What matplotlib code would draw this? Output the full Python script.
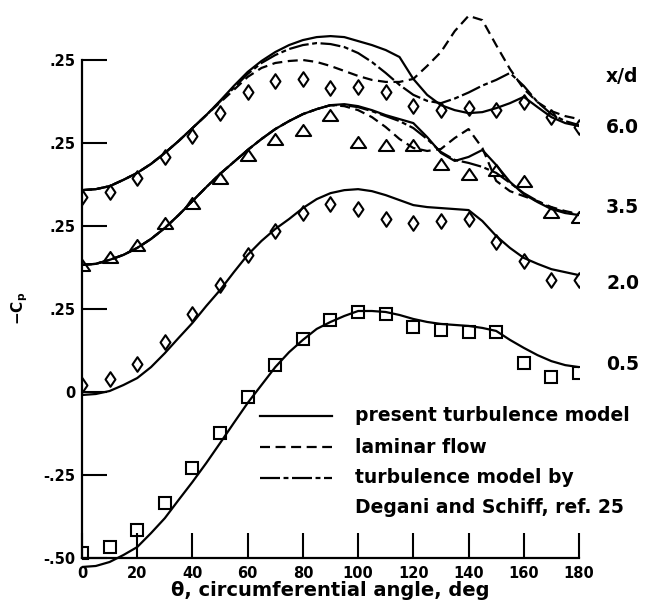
import numpy as np
import matplotlib
matplotlib.use("Agg")
import matplotlib.pyplot as plt
from matplotlib.path import Path

plt.rcParams["font.family"] = ["DejaVu Sans"]
plt.rcParams["font.weight"] = "bold"

# circumferential stations
theta_line = np.arange(0, 181, 5)
theta_pts = np.arange(0, 181, 10)

# ---- x/d = 6.0 ----
xd60_present = [0.608, 0.611, 0.620, 0.639, 0.660, 0.687, 0.720, 0.756, 0.795, 0.834,
                0.877, 0.922, 0.964, 0.997, 1.024, 1.045, 1.060, 1.069, 1.072, 1.069,
                1.057, 1.045, 1.030, 1.009, 0.943, 0.895, 0.864, 0.849, 0.840, 0.843,
                0.855, 0.870, 0.889, 0.858, 0.828, 0.810, 0.801]
xd60_laminar = [0.608, 0.611, 0.620, 0.639, 0.660, 0.687, 0.720, 0.756, 0.795, 0.834,
                0.872, 0.910, 0.949, 0.976, 0.991, 0.997, 1.000, 0.994, 0.982, 0.967,
                0.952, 0.940, 0.934, 0.934, 0.943, 0.982, 1.024, 1.087, 1.133, 1.120,
                1.045, 0.973, 0.913, 0.873, 0.846, 0.831, 0.822]
xd60_degani = [0.608, 0.611, 0.620, 0.639, 0.660, 0.687, 0.720, 0.756, 0.795, 0.834,
               0.875, 0.916, 0.958, 0.991, 1.015, 1.033, 1.045, 1.051, 1.048, 1.039,
               1.021, 0.994, 0.961, 0.925, 0.895, 0.877, 0.870, 0.884, 0.902, 0.923,
               0.940, 0.961, 0.922, 0.873, 0.837, 0.816, 0.804]
xd60_exp = [0.587, 0.602, 0.645, 0.708, 0.771, 0.840, 0.904, 0.937, 0.943, 0.916,
            0.919, 0.904, 0.861, 0.849, 0.855, 0.849, 0.873, 0.828, 0.798]

# ---- x/d = 3.5 ----
xd35_present = [0.383, 0.386, 0.398, 0.413, 0.434, 0.461, 0.494, 0.533, 0.575, 0.617,
                0.657, 0.693, 0.729, 0.762, 0.792, 0.816, 0.837, 0.852, 0.864, 0.867,
                0.861, 0.849, 0.834, 0.822, 0.810, 0.768, 0.720, 0.696, 0.708, 0.729,
                0.684, 0.633, 0.596, 0.572, 0.551, 0.539, 0.533]
xd35_laminar = [0.383, 0.386, 0.398, 0.413, 0.434, 0.461, 0.494, 0.533, 0.575, 0.617,
                0.657, 0.693, 0.729, 0.762, 0.792, 0.816, 0.837, 0.852, 0.864, 0.861,
                0.849, 0.828, 0.798, 0.762, 0.735, 0.726, 0.732, 0.765, 0.792, 0.735,
                0.636, 0.605, 0.590, 0.575, 0.557, 0.545, 0.536]
xd35_degani = [0.383, 0.386, 0.398, 0.413, 0.434, 0.461, 0.494, 0.533, 0.575, 0.617,
               0.657, 0.693, 0.729, 0.762, 0.792, 0.816, 0.837, 0.852, 0.864, 0.864,
               0.858, 0.846, 0.831, 0.816, 0.795, 0.762, 0.723, 0.699, 0.690, 0.678,
               0.660, 0.630, 0.599, 0.575, 0.554, 0.542, 0.533]
xd35_exp = [0.383, 0.407, 0.443, 0.509, 0.569, 0.645, 0.714, 0.762, 0.789, 0.834,
            0.753, 0.744, 0.744, 0.687, 0.657, 0.669, 0.636, 0.542, 0.527]

# ---- x/d = 2.0 ----
xd20_present = [-0.009, -0.006, 0.003, 0.021, 0.042, 0.075, 0.117, 0.163, 0.208, 0.259,
                0.307, 0.361, 0.413, 0.455, 0.491, 0.521, 0.554, 0.581, 0.599, 0.608,
                0.611, 0.605, 0.593, 0.578, 0.563, 0.557, 0.554, 0.551, 0.548, 0.515,
                0.470, 0.434, 0.404, 0.386, 0.370, 0.361, 0.352]
xd20_exp = [0.021, 0.039, 0.084, 0.151, 0.235, 0.322, 0.413, 0.485, 0.539, 0.566,
            0.551, 0.521, 0.509, 0.515, 0.521, 0.452, 0.395, 0.337, 0.337]

# ---- x/d = 0.5 ----
xd05_present = [-0.527, -0.524, -0.512, -0.491, -0.467, -0.425, -0.380, -0.325, -0.271, -0.214,
                -0.154, -0.093, -0.033, 0.021, 0.075, 0.120, 0.157, 0.190, 0.211, 0.229,
                0.244, 0.244, 0.241, 0.232, 0.220, 0.211, 0.205, 0.202, 0.199, 0.193,
                0.184, 0.157, 0.133, 0.111, 0.093, 0.081, 0.075]
xd05_exp = [-0.485, -0.467, -0.416, -0.334, -0.229, -0.123, -0.015, 0.081, 0.160, 0.217,
            0.241, 0.235, 0.196, 0.187, 0.181, 0.181, 0.087, 0.045, 0.057]

station_labels = ["6.0", "3.5", "2.0", "0.5"]
station_label_y = [0.798, 0.557, 0.328, 0.084]

x_ticks = [0, 20, 40, 60, 80, 100, 120, 140, 160, 180]
x_tick_labels = ["0", "20", "40", "60", "80", "100", "120", "140", "160", "180"]
y_ticks = [-0.5, -0.25, 0.0, 0.25, 0.5, 0.75, 1.0]
y_tick_labels = ["-.50", "-.25", "0", ".25", ".25", ".25", ".25"]

legend_labels = ["present turbulence model", "laminar flow",
                 "turbulence model by", "Degani and Schiff, ref. 25"]

# line styles
LW = 1.6
SOLID = "-"
DASHED = (0, (4.5, 2.5))
DASHDOT = (0, (9, 1.6, 2.2, 1.6))

# open markers
diamond = Path([(0, 1), (0.68, 0), (0, -1), (-0.68, 0), (0, 1)],
               [Path.MOVETO, Path.LINETO, Path.LINETO, Path.LINETO, Path.CLOSEPOLY])
triangle = Path([(-1, -0.72), (1, -0.72), (0, 0.72), (-1, -0.72)],
                [Path.MOVETO, Path.LINETO, Path.LINETO, Path.CLOSEPOLY])

fig = plt.figure(figsize=(6.56, 6.06), dpi=100)
ax = fig.add_axes([0.125, 0.0244, 0.7576, 0.9752])
ax.set_xlim(0, 180)
ax.set_ylim(-0.6, 1.18)

kw_line = dict(color="black", lw=LW, solid_joinstyle="round", dash_joinstyle="round")
kw_mark = dict(ls="none", mfc="none", mec="black", mew=1.5)

# model curves
ax.plot(theta_line, xd60_present, ls=SOLID, **kw_line)
ax.plot(theta_line, xd60_laminar, ls=DASHED, **kw_line)
ax.plot(theta_line, xd60_degani, ls=DASHDOT, **kw_line)
ax.plot(theta_line, xd35_present, ls=SOLID, **kw_line)
ax.plot(theta_line, xd35_laminar, ls=DASHED, **kw_line)
ax.plot(theta_line, xd35_degani, ls=DASHDOT, **kw_line)
ax.plot(theta_line, xd20_present, ls=SOLID, **kw_line)
ax.plot(theta_line, xd05_present, ls=SOLID, **kw_line)

# experimental data
ax.plot(theta_pts, xd60_exp, marker=diamond, ms=10.5, **kw_mark)
ax.plot(theta_pts, xd35_exp, marker=triangle, ms=11, **kw_mark)
ax.plot(theta_pts, xd20_exp, marker=diamond, ms=10.5, **kw_mark)
ax.plot(theta_pts, xd05_exp, marker="s", ms=8, **kw_mark)

# axes frame
ax.spines["top"].set_visible(False)
ax.spines["right"].set_visible(False)
ax.spines["left"].set_bounds(-0.5, 1.0)
ax.spines["bottom"].set_position(("data", -0.5))
ax.spines["bottom"].set_bounds(0, 180)
for s in ("left", "bottom"):
    ax.spines[s].set_linewidth(1.6)

ax.set_xticks(x_ticks)
ax.set_xticklabels(x_tick_labels)
ax.set_yticks(y_ticks)
ax.set_yticklabels(y_tick_labels)
ax.tick_params(direction="in", length=18, width=1.5, labelsize=10.5)
ax.tick_params(axis="x", pad=6)
ax.tick_params(axis="y", pad=5)

ax.set_xlabel("\u03b8, circumferential angle, deg", fontsize=14, fontweight="bold")
ax.xaxis.set_label_coords(0.5, 0.018)
ax.set_ylabel(r"$\mathbf{-C_p}$", fontsize=11, rotation=90)
ax.yaxis.set_label_coords(-0.105, 0.479)

# station labels at the right
ax.text(189.8, 0.949, "x/d", fontsize=13.5, va="center", ha="left", clip_on=False)
for lab, yv in zip(station_labels, station_label_y):
    ax.text(189.8, yv, lab, fontsize=13.5, va="center", ha="left", clip_on=False)

# key
key_styles = [SOLID, DASHED, DASHDOT]
key_rows = [-0.072, -0.166, -0.259]
for st, yv in zip(key_styles, key_rows):
    ax.plot([64.5, 90.5], [yv, yv], ls=st, **kw_line)
for lab, yv in zip(legend_labels, key_rows + [-0.349]):
    ax.text(98.9, yv, lab, fontsize=13.5, va="center", ha="left")

fig.savefig("out.png", dpi=100)
